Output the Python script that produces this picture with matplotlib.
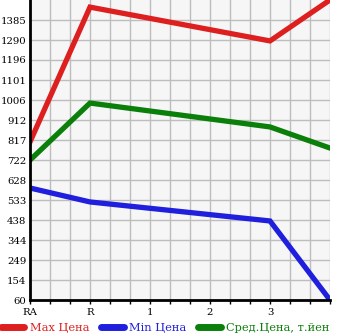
import matplotlib
matplotlib.use("Agg")
import matplotlib.pyplot as plt
from matplotlib.lines import Line2D

categories = ["RA", "R", "1", "2", "3"]
cat_pos = [0, 3, 6, 9, 12]
pt_pos = [0, 3, 12, 15]
max_price = [808, 1446, 1286, 1480]
min_price = [590, 524, 434, 60]
avg_price = [722, 992, 879, 779]
yticks = [60, 154, 249, 344, 438, 533, 628, 722, 817, 912, 1006, 1101, 1196, 1290, 1385]
ystep = (1385 - 60) / 14.0

red = "#dd1f1f"
blue = "#1f1fdd"
green = "#0a7f0a"

fig = plt.figure(figsize=(3.45, 3.35), dpi=100)
ax = fig.add_axes([30/345, 35/335, 300/345, 300/335])
ax.set_facecolor("#f6f6f6")

lw = 3.8
ax.plot(pt_pos, max_price, color=red, lw=lw, solid_joinstyle="miter")
ax.plot(pt_pos, min_price, color=blue, lw=lw, solid_joinstyle="miter")
ax.plot(pt_pos, avg_price, color=green, lw=lw, solid_joinstyle="miter")

ax.set_xlim(0, 15)
ax.set_ylim(60, 60 + 15 * ystep)
ax.set_xticks(range(0, 16))
ax.set_xticklabels([categories[cat_pos.index(i)] if i in cat_pos else "" for i in range(16)],
                   family="DejaVu Serif", fontsize=7.3)
ytick_pos = [60 + i * ystep for i in range(15)]
ax.set_yticks(ytick_pos)
ax.set_yticklabels([str(v) for v in yticks], family="DejaVu Serif", fontsize=7.3)
ax.grid(True, color="#bdbdbd", lw=1)
ax.set_axisbelow(True)
for s in ["top", "right"]:
    ax.spines[s].set_visible(False)
for s in ["left", "bottom"]:
    ax.spines[s].set_linewidth(2)
    ax.spines[s].set_color("black")
ax.tick_params(axis="x", length=3, width=1, pad=2.5, colors="black")
ax.tick_params(axis="y", length=0, pad=2.5)

handles = [Line2D([], [], color=c, lw=5, solid_capstyle="round") for c in (red, blue, green)]
labels = ["Max Цена", "Min Цена", "Сред.Цена, т.йен"]
leg = fig.legend(handles, labels, loc="center", bbox_to_anchor=(0.48, 1 - 328/335), ncol=3,
                 frameon=False, prop={"family": "DejaVu Serif", "size": 8.2},
                 handlelength=2.0, handletextpad=0.5, columnspacing=1.0, borderaxespad=0,
                 borderpad=0)
for t, c in zip(leg.get_texts(), (red, blue, green)):
    t.set_color(c)

fig.savefig("out.png", dpi=100)
